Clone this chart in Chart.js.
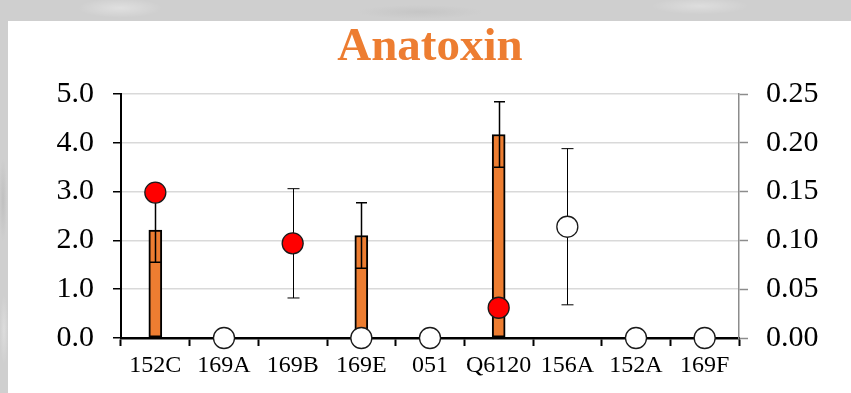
<!DOCTYPE html>
<html>
<head>
<meta charset="utf-8">
<script src="https://cdn.jsdelivr.net/npm/chart.js@4/dist/chart.umd.min.js"></script>
<style>
  html, body { margin: 0; padding: 0; }
  body {
    width: 851px; height: 393px; overflow: hidden; position: relative;
    background-color: #cfcfcf;
    background-image:
      radial-gradient(ellipse 60px 14px at 120px 8px, rgba(255,255,255,0.35), rgba(255,255,255,0) 70%),
      radial-gradient(ellipse 90px 10px at 420px 12px, rgba(180,180,180,0.35), rgba(180,180,180,0) 70%),
      radial-gradient(ellipse 70px 12px at 700px 6px, rgba(255,255,255,0.3), rgba(255,255,255,0) 70%),
      radial-gradient(ellipse 6px 60px at 3px 200px, rgba(170,170,170,0.4), rgba(170,170,170,0) 70%),
      radial-gradient(ellipse 6px 50px at 4px 330px, rgba(240,240,240,0.4), rgba(240,240,240,0) 70%);
  }
  #panel { position: absolute; left: 8px; top: 21px; right: 0; bottom: 0; background: #ffffff; }
  #chart { position: absolute; left: 0; top: 0; }
</style>
</head>
<body>
<div id="panel"></div>
<canvas id="chart" width="851" height="393"></canvas>
<script>
// Sites sampled
const categories = ['152C', '169A', '169B', '169E', '051', 'Q6120', '156A', '152A', '169F'];

// Bars, left axis, with symmetric error
const barValues = [2.21, null, null, 2.10, null, 4.17, null, null, null];
const barErrors = [0.66, null, null, 0.67, null, 0.67, null, null, null];

// Filled (red) markers, right axis
const redValues = [0.149, null, 0.097, null, null, 0.031, null, null, null];
const redErrors = [null, null, 0.056, null, null, null, null, null, null];

// Open (white) markers, right axis
const whiteValues = [null, 0, null, 0, 0, null, 0.114, 0, 0];
const whiteErrors = [null, null, null, null, null, null, 0.08, null, null];

// Axis tick labels
const leftTicks = ['0.0', '1.0', '2.0', '3.0', '4.0', '5.0'];
const rightTicks = ['0.00', '0.05', '0.10', '0.15', '0.20', '0.25'];

const ORANGE = '#ED7D31';
const SERIF = "'Liberation Serif', 'Times New Roman', serif";

const errorBars = {
  id: 'errorBars',
  afterDatasetDraw(chart, args) {
    if (args.index !== 2) return;
    const ctx = chart.ctx;
    const x = chart.scales.x;
    const yL = chart.scales.y;
    const yR = chart.scales.y1;
    ctx.save();
    ctx.strokeStyle = '#000';
    const draw = (vals, errs, scale, lw, cap) => {
      ctx.lineWidth = lw;
      vals.forEach((v, i) => {
        const e = errs[i];
        if (v === null || e === null) return;
        const px = Math.round(x.getPixelForValue(i)) + 0.5;
        const top = scale.getPixelForValue(v + e);
        const bot = scale.getPixelForValue(v - e);
        ctx.beginPath();
        ctx.moveTo(px, top); ctx.lineTo(px, bot);
        ctx.moveTo(px - cap / 2, top); ctx.lineTo(px + cap / 2, top);
        ctx.moveTo(px - cap / 2, bot); ctx.lineTo(px + cap / 2, bot);
        ctx.stroke();
      });
    };
    draw(barValues, barErrors, yL, 1.5, 11);
    draw(redValues, redErrors, yR, 1, 12);
    draw(whiteValues, whiteErrors, yR, 1, 12);
    ctx.restore();
  }
};

new Chart(document.getElementById('chart'), {
  data: {
    labels: categories,
    datasets: [
      {
        type: 'line', data: redValues, yAxisID: 'y1', showLine: false,
        pointRadius: 10.5, pointHoverRadius: 10.5,
        pointBackgroundColor: '#FF0000', pointBorderColor: '#1a1a1a', pointBorderWidth: 1.3,
        clip: false
      },
      {
        type: 'line', data: whiteValues, yAxisID: 'y1', showLine: false,
        pointRadius: 10.5, pointHoverRadius: 10.5,
        pointBackgroundColor: '#FFFFFF', pointBorderColor: '#1a1a1a', pointBorderWidth: 1.3,
        clip: false
      },
      {
        type: 'bar', data: barValues, yAxisID: 'y',
        backgroundColor: ORANGE, borderColor: '#000', borderWidth: 2,
        barThickness: 13, borderSkipped: false
      }
    ]
  },
  options: {
    responsive: false,
    animation: false,
    devicePixelRatio: 1,
    layout: { padding: 0 },
    plugins: {
      legend: { display: false },
      tooltip: { enabled: false },
      title: {
        display: true, text: 'Anatoxin', color: ORANGE, fullSize: false,
        font: { family: SERIF, size: 47, weight: 'bold' },
        padding: { top: 20, bottom: 17.6 }
      }
    },
    scales: {
      x: {
        type: 'category',
        offset: true,
        grid: {
          offset: true, drawOnChartArea: false, drawTicks: true,
          tickLength: 8, tickColor: '#000', tickWidth: 2
        },
        border: { color: '#000', width: 2.5 },
        ticks: { color: '#000', font: { family: SERIF, size: 24 }, padding: 5, maxRotation: 0, autoSkip: false },
        afterFit(scale) { scale.height = 55; }
      },
      y: {
        position: 'left', min: 0, max: 5,
        ticks: {
          stepSize: 0.5, color: '#000', padding: 19,
          font: { family: SERIF, size: 30 },
          callback: (v) => (Math.abs(v - Math.round(v)) < 1e-6 ? leftTicks[Math.round(v)] : '')
        },
        grid: {
          color: (c) => (c.tick && Math.abs(c.tick.value - Math.round(c.tick.value)) < 1e-6 && c.tick.value > 0 ? '#d9d9d9' : 'rgba(0,0,0,0)'),
          lineWidth: 1.5, tickColor: '#000', tickLength: 8, tickWidth: 1.5
        },
        border: { color: '#000', width: 2 },
        afterFit(scale) { scale.width = 121; }
      },
      y1: {
        position: 'right', min: 0, max: 0.25,
        ticks: {
          stepSize: 0.05, color: '#000', padding: 18,
          font: { family: SERIF, size: 30 },
          callback: (v) => rightTicks[Math.round(v / 0.05)]
        },
        grid: { drawOnChartArea: false, tickColor: '#8c8c8c', tickLength: 9, tickWidth: 1.5 },
        border: { color: '#8c8c8c', width: 1.5 },
        afterFit(scale) { scale.width = 112; }
      }
    }
  },
  plugins: [errorBars]
});
</script>
</body>
</html>
